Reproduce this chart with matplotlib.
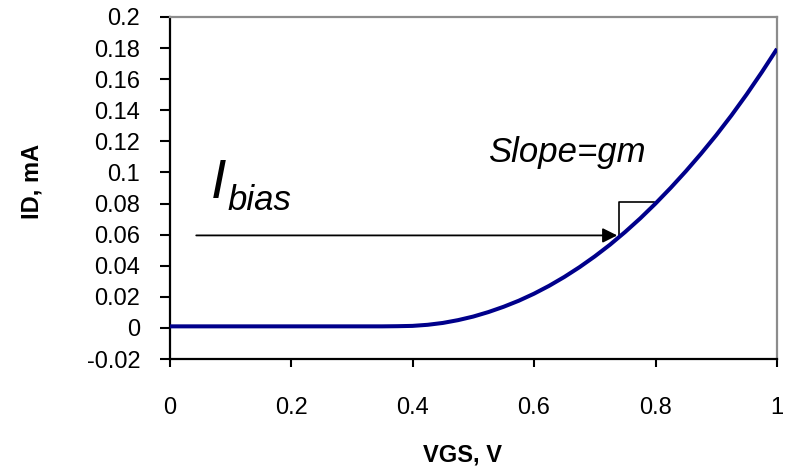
import matplotlib
matplotlib.use("Agg")
import matplotlib.pyplot as plt

plt.rcParams['font.family'] = ['Liberation Sans', 'DejaVu Sans']

# Data
vgs = [0.0, 0.1, 0.2, 0.3, 0.35, 0.375, 0.4, 0.425, 0.45, 0.475, 0.5, 0.525, 0.55,
       0.575, 0.6, 0.625, 0.65, 0.675, 0.7, 0.725, 0.75, 0.775, 0.8, 0.825, 0.85,
       0.875, 0.9, 0.925, 0.95, 0.975, 1.0]
id_ma = [0.001, 0.001, 0.001, 0.001, 0.001, 0.0011, 0.0013, 0.0020, 0.0032, 0.0050,
         0.0073, 0.0102, 0.0136, 0.0175, 0.0220, 0.0271, 0.0328, 0.0391, 0.0460,
         0.0535, 0.0617, 0.0705, 0.0800, 0.0901, 0.1008, 0.1121, 0.1240, 0.1367,
         0.1502, 0.1645, 0.1795]

x_ticks = [0, 0.2, 0.4, 0.6, 0.8, 1]
x_tick_labels = ["0", "0.2", "0.4", "0.6", "0.8", "1"]
y_ticks = [-0.02, 0, 0.02, 0.04, 0.06, 0.08, 0.1, 0.12, 0.14, 0.16, 0.18, 0.2]
y_tick_labels = ["-0.02", "0", "0.02", "0.04", "0.06", "0.08", "0.1", "0.12",
                 "0.14", "0.16", "0.18", "0.2"]

# Annotation anchors (data coords)
bias_level = 0.0595
arrow_start = 0.044
arrow_end = 0.737
slope_x0, slope_x1, slope_ytop = 0.7406, 0.798, 0.081

W, H = 792, 469
fig = plt.figure(figsize=(W / 100, H / 100), dpi=100)
left_px, right_px, top_px, bottom_px = 169.5, 777, 17, 359
ax = fig.add_axes([left_px / W, 1 - bottom_px / H,
                   (right_px - left_px) / W, (bottom_px - top_px) / H])

ax.plot(vgs, id_ma, color='#00008b', lw=2.9, solid_capstyle='butt', zorder=3)

ax.set_xlim(0, 1)
ax.set_ylim(-0.02, 0.2)
ax.set_xticks(x_ticks)
ax.set_xticklabels(x_tick_labels, fontsize=17)
ax.set_yticks(y_ticks)
ax.set_yticklabels(y_tick_labels, fontsize=17)
ax.tick_params(axis='x', direction='out', length=6, width=1.5, pad=21)
ax.tick_params(axis='y', direction='out', length=7, width=1.5, pad=14)

for s in ['left', 'bottom']:
    ax.spines[s].set_color('black')
    ax.spines[s].set_linewidth(1.6)
for s in ['top', 'right']:
    ax.spines[s].set_color('#8c8c8c')
    ax.spines[s].set_linewidth(1.6)

# Ibias arrow
ax.annotate('', xy=(arrow_end, bias_level), xytext=(arrow_start, bias_level),
            arrowprops=dict(arrowstyle='-|>', color='black', lw=1.3,
                            mutation_scale=22, shrinkA=0, shrinkB=0))
# slope triangle
ax.plot([slope_x0, slope_x0, slope_x1], [bias_level, slope_ytop, slope_ytop],
        color='black', lw=1.2, zorder=2)

ax.text(0.068, 0.0836, 'I', fontsize=40, style='italic', ha='left', va='baseline')
ax.text(0.096, 0.0759, 'bias', fontsize=25, style='italic', ha='left', va='baseline')
ax.text(0.524, 0.1068, 'Slope=gm', fontsize=25, style='italic', ha='left', va='baseline')

fig.text(463 / W, 1 - 455 / H, 'VGS, V', fontsize=17, fontweight='bold',
         ha='center', va='center')
fig.text(32 / W, 1 - 181 / H, 'ID, mA', fontsize=17, fontweight='bold',
         ha='center', va='center', rotation=90)

fig.savefig('out.png', dpi=100)
